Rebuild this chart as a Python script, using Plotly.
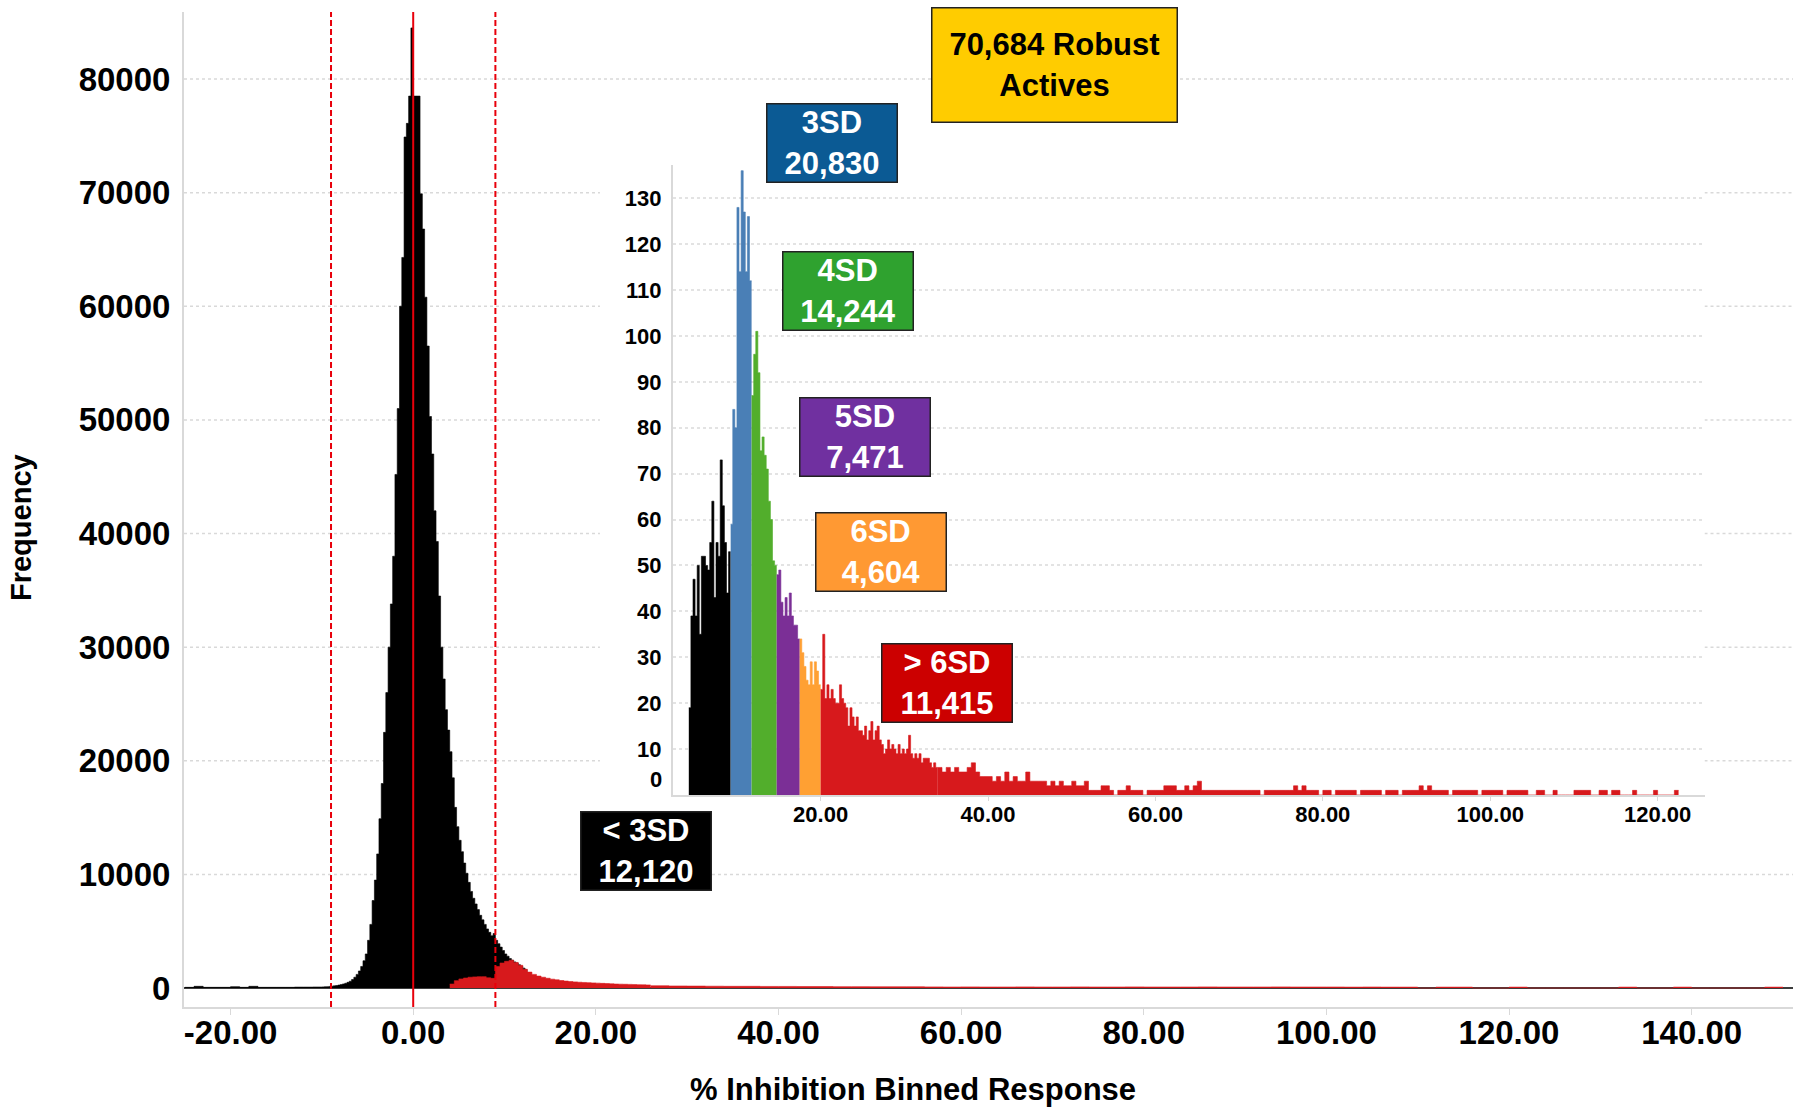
import plotly.graph_objects as go

# ---- main histogram: all wells, % inhibition ----
main_black_start = -10.0
main_black_step = 0.25
main_black = [100, 110, 120, 140, 160, 190, 220, 260, 300, 360, 420, 500,
              600, 750, 950, 1200, 1500, 1900, 2400, 3000, 4200, 5600, 7700, 9500,
              11800, 14900, 18000, 22500, 26000, 30000, 33800, 38000,
              45200, 51000, 60000, 64300, 74900, 76100, 78500, 84500,
              78500, 78500, 78500, 69900, 66800, 60800, 56500, 50300,
              47000, 42000, 39300, 34500, 30000, 27200, 24500, 22700,
              20800, 18500, 15900, 14200, 13000, 12000, 11000, 10100,
              9300, 8500, 7900, 7400, 6900, 6400, 6000, 5600,
              5200, 4900, 4600, 4800, 4200, 3900, 3600, 3300,
              3000, 2800, 2600, 2450, 2300, 2200, 2050, 1900, 1750, 1600]

main_left_start = -25.0
main_left_step = 1.0
main_left = [60, 150, 60, 60, 60, 120, 60, 150, 60, 60, 60, 60, 80, 80, 90]

main_red_start = 4.0
main_red_step = 0.5
main_red = [350, 650, 800, 880, 950, 980, 1000, 1000, 900, 850,
            1900, 2200, 2350, 2450, 2250, 2000, 1650, 1400,
            1200, 1050, 950, 860, 780, 720, 660, 610,
            570, 540, 510, 490, 470, 450, 430, 410,
            390, 370, 350, 340, 330, 320, 300, 290, 280, 270]

main_red_tail_start = 26.0
main_red_tail_step = 2.0
main_red_tail = [200, 180, 170, 160, 150, 150, 140, 140, 130, 130, 120, 120, 110, 110, 110,
                 100, 90, 100, 90, 90, 100, 90, 90, 100, 90, 90, 100, 90, 90, 90, 100,
                 90, 90, 90, 100, 90, 90, 90, 80, 90, 80, 80, 0, 80, 80, 0,
                 0, 80, 0, 0, 0, 0, 0, 80, 0, 0, 80, 0, 0, 0, 0, 80]

sd_lines = [-9.0, 0.0, 9.0]
main_yticks = [0, 10000, 20000, 30000, 40000, 50000, 60000, 70000, 80000]
main_xticks = [-20, 0, 20, 40, 60, 80, 100, 120, 140]

# ---- inset: robust actives by SD band ----
inset_step = 0.25
inset_black_start = 4.25
inset_black = [19, 39, 47, 39, 50, 35, 52, 52, 50, 49, 55, 64, 43, 55, 52, 73, 63, 55, 44, 53]
inset_blue_start = 9.25
inset_blue = [59, 84, 80, 128, 114, 136, 127, 114, 126, 112]
inset_green_start = 11.75
inset_green = [87, 96, 101, 92, 75, 78, 74, 71, 64, 60, 51, 50]
inset_purple_start = 14.75
inset_purple = [48, 49, 42, 39, 43, 39, 44, 39, 37, 37, 34]
inset_orange_start = 17.5
inset_orange = [34, 31, 28, 25, 24, 29, 24, 29, 27, 24]
inset_red_start = 20.0
inset_red = [23, 35, 21, 24, 21, 23, 21, 20, 20, 24, 21, 20, 19, 15, 19, 17, 15, 17, 14, 14,
             13, 15, 12, 14, 16, 12, 14, 15, 12, 11, 9, 10, 12, 10, 11, 10, 9, 11, 9, 10,
             9, 10, 13, 9, 8, 9, 8, 9, 7, 8, 8, 8, 7, 6, 7, 6]
inset_red_tail_start = 34.0
inset_red_tail_step = 0.5
inset_red_tail = [6, 5, 6, 5, 6, 5, 5, 6, 7, 5, 4, 4,
                  4, 3, 4, 3, 5, 3, 4, 3, 3, 5, 3, 3,
                  3, 3, 2, 3, 2, 3, 2, 2, 3, 2, 2, 3,
                  1, 1, 1, 2, 2, 1, 0, 1, 1, 2, 1, 1,
                  1, 0, 1, 1, 1, 1, 2, 2, 2, 1, 1, 2,
                  1, 2, 3, 1, 1, 1, 1, 1, 1, 1, 1, 1,
                  1, 1, 1, 1, 1, 0, 1, 1, 1, 1, 1, 1,
                  1, 2, 1, 2, 1, 1, 1, 0, 1, 1, 0, 1,
                  1, 1, 1, 1, 0, 1, 1, 1, 1, 1, 0, 1,
                  1, 1, 0, 1, 1, 1, 1, 2, 1, 2, 1, 1,
                  1, 1, 0, 1, 1, 1, 1, 1, 1, 0, 1, 1,
                  1, 1, 1, 0, 1, 1, 1, 1, 1, 0, 0, 1,
                  1, 0, 0, 1, 0, 0, 0, 0, 1, 1, 1, 1,
                  0, 0, 1, 1, 0, 1, 1, 0, 0, 0, 1, 0,
                  0, 0, 0, 1, 0, 0, 0, 0, 1]
inset_yticks = [10, 20, 30, 40, 50, 60, 70, 80, 90, 100, 110, 120, 130]
inset_xticks = [20, 40, 60, 80, 100, 120]

band_labels = ["< 3SD<br>12,120", "3SD<br>20,830", "4SD<br>14,244", "5SD<br>7,471",
               "6SD<br>4,604", "> 6SD<br>11,415"]
total_label = "70,684 Robust<br>Actives"

FONT = "Liberation Sans, Arial, sans-serif"
RED = "#D7191C"

fig = go.Figure()


def add_hist(counts, start, step, color, xa="x", ya="y"):
    # histogram drawn as a filled step outline (bin edges -> counts)
    edges = [start + step * i for i in range(len(counts) + 1)]
    fig.add_trace(go.Scatter(x=edges, y=counts + [counts[-1]], xaxis=xa, yaxis=ya,
                             mode="lines", line=dict(shape="hv", color=color, width=0.6),
                             fill="tozeroy", fillcolor=color,
                             showlegend=False, hoverinfo="skip"))


# main chart
add_hist(main_left, main_left_start, main_left_step, "#000000")
add_hist(main_black, main_black_start, main_black_step, "#000000")
add_hist(main_red, main_red_start, main_red_step, RED)
add_hist(main_red_tail, main_red_tail_start, main_red_tail_step, RED)

# inset chart
add_hist(inset_black, inset_black_start, inset_step, "#000000", "x2", "y2")
add_hist(inset_blue, inset_blue_start, inset_step, "#4A7FB6", "x2", "y2")
add_hist(inset_green, inset_green_start, inset_step, "#52AE2C", "x2", "y2")
add_hist(inset_purple, inset_purple_start, inset_step, "#7B2F96", "x2", "y2")
add_hist(inset_orange, inset_orange_start, inset_step, "#FFA033", "x2", "y2")
add_hist(inset_red, inset_red_start, inset_step, RED, "x2", "y2")
add_hist(inset_red_tail, inset_red_tail_start, inset_red_tail_step, RED, "x2", "y2")

inset_x_dom = [0.3037, 0.945]
inset_y_dom = [0.2131, 0.8465]
inset_bg_left = 0.2585   # white area of the inset starts left of its tick labels

shapes = []
# main gridlines, interrupted where the inset sits
for v in main_yticks[1:]:
    segs = [(0, 1)] if v in (10000, 80000) else [(0, inset_bg_left), (inset_x_dom[1], 1)]
    for a, b in segs:
        shapes.append(dict(type="line", xref="paper", yref="y", x0=a, x1=b, y0=v, y1=v,
                           line=dict(color="#D9D9D9", width=1.5, dash="dot"), layer="below"))
# SD cut-off lines
for v in sd_lines:
    shapes.append(dict(type="line", xref="x", yref="paper", x0=v, x1=v, y0=0, y1=1,
                       line=dict(color="#E8000B", width=2, dash="solid" if v == 0 else "6px,3px"),
                       layer="above"))

annotations = [
    dict(text="% Inhibition Binned Response", xref="paper", yref="paper", x=0.4531, y=-0.0834,
         xanchor="center", yanchor="middle", showarrow=False,
         font=dict(size=31, weight="bold", family=FONT)),
    dict(text="Frequency", xref="paper", yref="paper", x=-0.1013, y=0.4814, textangle=-90,
         xanchor="center", yanchor="middle", showarrow=False,
         font=dict(size=29, weight="bold", family=FONT)),
    dict(text="0", xref="paper", yref="y2", x=0.2985, y=3.3, xanchor="right", yanchor="middle",
         showarrow=False, font=dict(size=22, weight="bold", family=FONT)),
    dict(text=total_label, xref="paper", yref="paper", x=0.5413, y=0.9472,
         xanchor="center", yanchor="middle", showarrow=False,
         width=244, height=113, bgcolor="#FFCC00", bordercolor="#222222", borderwidth=1.5,
         borderpad=0, font=dict(size=31, weight="bold", family=FONT, color="black")),
]

box_pos = [(0.2874, 0.1568), (0.4027, 0.8688), (0.4127, 0.7201), (0.4232, 0.5724),
           (0.4332, 0.4573), (0.4742, 0.3256)]
box_colors = ["#000000", "#0B5A94", "#2FA22F", "#7030A0", "#FF9933", "#CC0000"]
for text, (px, py), c in zip(band_labels, box_pos, box_colors):
    annotations.append(dict(text=text, xref="paper", yref="paper", x=px, y=py,
                            xanchor="center", yanchor="middle", showarrow=False,
                            width=129, height=77, bgcolor=c, bordercolor="#222222",
                            borderwidth=1.5, borderpad=0,
                            font=dict(size=31, weight="bold", family=FONT, color="white")))

fig.update_layout(
    width=1800, height=1114,
    margin=dict(l=184, r=7, t=12, b=107),
    paper_bgcolor="white", plot_bgcolor="white",
    showlegend=False,
    font=dict(family=FONT, color="black"),
    xaxis=dict(range=[-25.1, 151.1], tickvals=main_xticks,
               ticktext=[f"{v:.2f}" for v in main_xticks],
               showgrid=False, zeroline=False, showline=True, linecolor="#D9D9D9", linewidth=2,
               ticks="outside", ticklen=6, tickcolor="#D9D9D9", ticklabelstandoff=-11,
               tickfont=dict(size=33, weight="bold", family=FONT)),
    yaxis=dict(range=[-1670, 85900], tickvals=main_yticks, tickformat="d",
               showgrid=False, zeroline=True, zerolinecolor="#3C3C3C", zerolinewidth=2,
               showline=True, linecolor="#D9D9D9", linewidth=2, ticks="",
               ticklabelstandoff=5, tickfont=dict(size=33, weight="bold", family=FONT)),
    xaxis2=dict(domain=inset_x_dom, anchor="y2", range=[2.32, 125.6], tickvals=inset_xticks,
                ticktext=[f"{v:.2f}" for v in inset_xticks],
                showgrid=False, zeroline=False, showline=True, linecolor="#D9D9D9", linewidth=1.5,
                ticks="outside", ticklen=4, tickcolor="#D9D9D9", ticklabelstandoff=-5,
                tickfont=dict(size=22, weight="bold", family=FONT)),
    yaxis2=dict(domain=inset_y_dom, anchor="x2", range=[0, 137.3], tickvals=inset_yticks,
                showgrid=True, gridcolor="#E3E3E3", griddash="dot", gridwidth=1.5,
                zeroline=False, showline=True, linecolor="#D9D9D9", linewidth=1.5, ticks="",
                ticklabelstandoff=5, tickfont=dict(size=22, weight="bold", family=FONT)),
    shapes=shapes,
    annotations=annotations,
)

# page margin off so the 1800x1114 figure sits flush in the window
fig.write_html("out.html", config={"displayModeBar": False},
               post_script="document.body.style.margin='0';")
